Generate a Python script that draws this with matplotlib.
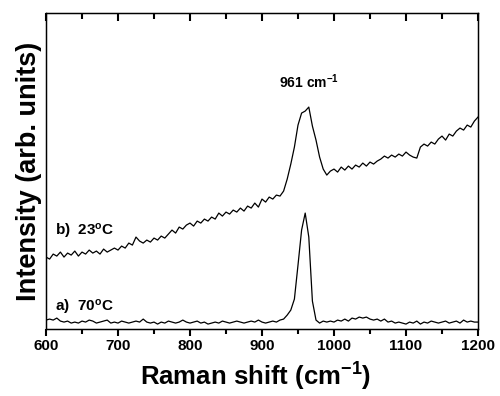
import numpy as np
import matplotlib.pyplot as plt

plt.rcParams['font.family'] = ['Liberation Sans', 'DejaVu Sans']
plt.rcParams['font.weight'] = 'bold'
plt.rcParams['mathtext.fontset'] = 'custom'
plt.rcParams['mathtext.rm'] = 'Liberation Sans:bold'
plt.rcParams['mathtext.it'] = 'Liberation Sans:bold'
plt.rcParams['mathtext.bf'] = 'Liberation Sans:bold'

# Raman shift grid (cm-1), 5 cm-1 steps
shift = np.arange(600, 1201, 5)

# a) 70 C spectrum (arb. units, read off the picture)
spec_70 = [9, 10, 9, 11, 8, 7, 8, 6, 7, 6,
           8, 7, 9, 8, 6, 7, 8, 9, 6, 7,
           6, 8, 7, 6, 7, 8, 7, 10, 7, 6,
           7, 5, 7, 6, 8, 7, 6, 7, 9, 7,
           6, 7, 8, 6, 7, 5, 6, 7, 6, 8,
           7, 6, 7, 8, 7, 6, 7, 8, 7, 9,
           7, 6, 7, 8, 7, 9, 10, 14, 19, 30,
           64, 99, 116, 92, 28, 9, 6, 8, 7, 8,
           7, 9, 8, 10, 8, 11, 10, 12, 11, 12,
           10, 9, 10, 8, 10, 7, 8, 6, 7, 6,
           5, 7, 6, 8, 5, 7, 6, 8, 7, 6,
           7, 8, 6, 7, 8, 6, 9, 7, 8, 7,
           7]

# b) 23 C spectrum
spec_23 = [72, 70, 75, 73, 77, 72, 76, 74, 78, 73,
           77, 75, 79, 76, 78, 75, 80, 77, 79, 81,
           79, 83, 81, 86, 84, 92, 88, 86, 89, 87,
           91, 89, 93, 91, 95, 99, 96, 102, 100, 104,
           106, 103, 108, 106, 110, 108, 112, 110, 116, 113,
           117, 115, 119, 117, 121, 118, 123, 121, 126, 122,
           130, 127, 132, 130, 134, 133, 138, 150, 165, 182,
           204, 216, 218, 222, 203, 189, 172, 160, 154, 158,
           160, 157, 162, 159, 163, 160, 164, 162, 166, 163,
           167, 165, 168, 170, 173, 171, 174, 172, 175, 173,
           177, 174, 172, 171, 182, 185, 183, 187, 185, 190,
           193, 189, 195, 193, 198, 201, 199, 204, 202, 208,
           212]

major_ticks = np.arange(600, 1201, 100)
minor_ticks = np.arange(650, 1200, 100)

fig = plt.figure(figsize=(5, 3.96), dpi=100)
ax = fig.add_axes([0.092, 0.169, 0.864, 0.798])

ax.plot(shift, spec_70, color='black', lw=0.9)
ax.plot(shift, spec_23, color='black', lw=0.9)

ax.set_xlim(600, 1200)
ax.set_ylim(0, 316)
ax.set_yticks([])
ax.set_xticks(major_ticks)
ax.set_xticks(minor_ticks, minor=True)
# bottom ticks outward
ax.tick_params(axis='x', which='major', direction='out', length=5, width=1.5,
               top=False, bottom=True, labelsize=11, pad=2)
ax.tick_params(axis='x', which='minor', direction='out', length=3.5, width=1.5,
               top=False, bottom=True)

# top ticks inward
top = ax.twiny()
top.set_xlim(600, 1200)
top.set_xticks(major_ticks)
top.set_xticks(minor_ticks, minor=True)
top.tick_params(axis='x', which='major', direction='in', length=6, width=1.5,
                top=True, bottom=False, labeltop=False, labelbottom=False)
top.tick_params(axis='x', which='minor', direction='in', length=4, width=1.5,
                top=True, bottom=False)

ax.set_xlabel('Raman shift (cm$^{-1}$)', fontsize=18.5, fontweight='bold')
ax.xaxis.set_label_coords(0.485, -0.1, transform=ax.transAxes)
ax.xaxis.label.set_va('top')
ax.set_ylabel('Intensity (arb. units)', fontsize=19.5, fontweight='bold', labelpad=3)

ax.text(965, 238, '961 cm$^{-1}$', fontsize=10, ha='center', va='bottom')
ax.text(612, 88, 'b)  23$^{o}$C', fontsize=11, ha='left', va='bottom')
ax.text(613, 12, 'a)  70$^{o}$C', fontsize=11, ha='left', va='bottom')

for s in ax.spines.values():
    s.set_linewidth(1)

fig.canvas.draw()
fig.savefig('out.png', dpi=100)
